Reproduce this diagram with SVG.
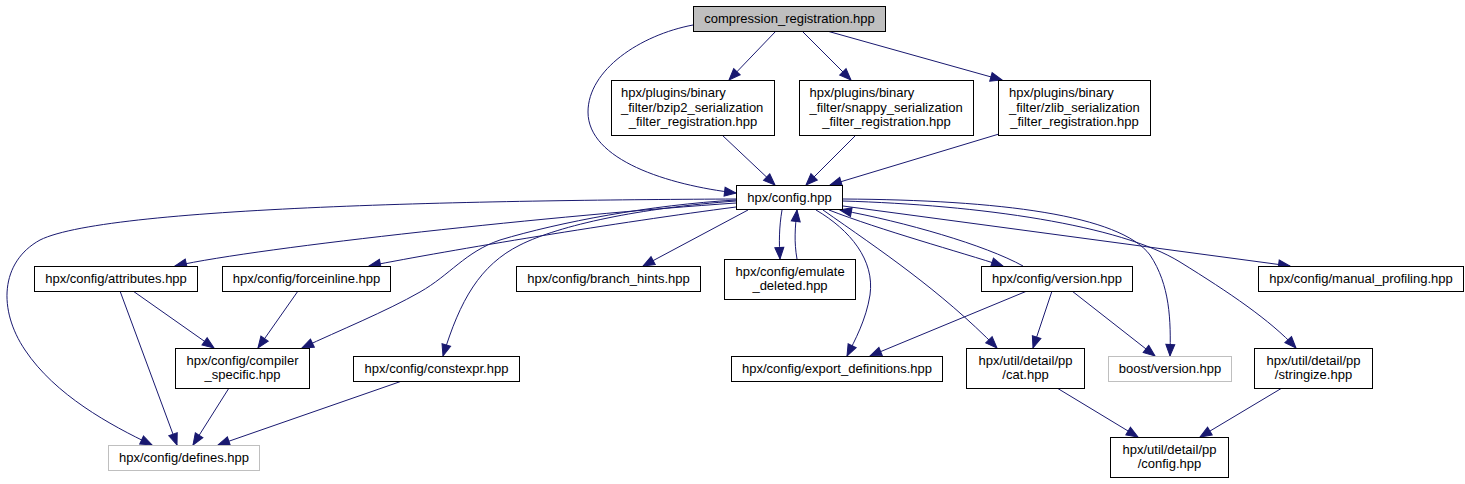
<svg xmlns="http://www.w3.org/2000/svg" width="1465" height="484" viewBox="0 0 1465 484">
<defs>
<marker id="ah" markerWidth="14" markerHeight="11" refX="11.5" refY="4.5" orient="auto" markerUnits="userSpaceOnUse" overflow="visible">
<path d="M0,0 L11.5,4.5 L0,9 Z" fill="#191970" stroke="#191970" stroke-width="1"/>
</marker>
</defs>
<style>
.n rect{fill:#ffffff;stroke:#000000;stroke-width:1}
.g rect{stroke:#bfbfbf}
.root rect{fill:#bfbfbf}
text{font-family:"Liberation Sans",Arial,Helvetica,sans-serif;font-size:13px;fill:#000000}
.c{text-anchor:middle}
.l{text-anchor:start}
#edges path{fill:none;stroke:#191970;stroke-width:1;marker-end:url(#ah)}
</style>
<rect x="0" y="0" width="1465" height="484" fill="#ffffff"/>
<g id="edges">
<path d="M776,31 L729,80"/>
<path d="M802,31 L851,80"/>
<path d="M827,31 L1002,80"/>
<path d="M693,25 C640,35 588,70 588,112 C588,160 668,185 736,193"/>
<path d="M722,135 L775,185"/>
<path d="M856,135 L806,185"/>
<path d="M999,134 L830,185"/>
<path d="M736,199 C520,200 110,205 40,240 C0,262 -2,310 25,350 C55,395 110,425 152,445"/>
<path d="M736,203 C560,215 260,247 175,266"/>
<path d="M736,207 C620,222 450,250 369,266"/>
<path d="M736,200 C650,205 560,222 500,240 C465,252 450,275 420,292 C385,312 340,330 302,348"/>
<path d="M736,201 C640,208 560,225 520,245 C480,265 460,300 443,356"/>
<path d="M748,210 L643,266"/>
<path d="M782,210 C779,228 779,242 780,259"/>
<path d="M797,259 C794,242 795,228 797,210"/>
<path d="M816,210 C850,230 875,260 870,295 C866,320 855,340 847,356"/>
<path d="M823,210 C880,250 940,290 997,348"/>
<path d="M829,210 C880,230 960,252 1003,266"/>
<path d="M1023,266 C985,245 905,222 840,210"/>
<path d="M843,199 C1000,200 1120,215 1150,255 C1170,285 1171,320 1170,356"/>
<path d="M843,201 C980,205 1120,225 1180,262 C1230,293 1270,320 1296,348"/>
<path d="M843,206 L1290,266"/>
<path d="M1027,291 L870,356"/>
<path d="M1052,291 L1033,348"/>
<path d="M1072,291 L1155,356"/>
<path d="M133,291 L214,348"/>
<path d="M120,291 L177,445"/>
<path d="M298,291 L258,348"/>
<path d="M229,388 L193,445"/>
<path d="M402,381 L218,445"/>
<path d="M1057,388 L1138,437"/>
<path d="M1282,388 L1200,437"/>
</g>
<g id="n_compression" class="n root"><rect x="693.5" y="6.5" width="192" height="25"/><text class="c" x="789.5" y="23">compression_registration.hpp</text></g>
<g id="n_bzip2" class="n"><rect x="611.5" y="80.5" width="163" height="55"/><text class="l" x="621" y="97">hpx/plugins/binary</text><text class="l" x="621" y="111.5">_filter/bzip2_serialization</text><text class="c" x="693" y="126">_filter_registration.hpp</text></g>
<g id="n_snappy" class="n"><rect x="799.5" y="80.5" width="174" height="55"/><text class="l" x="809.5" y="97">hpx/plugins/binary</text><text class="l" x="809.5" y="111.5">_filter/snappy_serialization</text><text class="c" x="886.5" y="126">_filter_registration.hpp</text></g>
<g id="n_zlib" class="n"><rect x="998.5" y="80.5" width="152" height="55"/><text class="l" x="1009" y="97">hpx/plugins/binary</text><text class="l" x="1009" y="111.5">_filter/zlib_serialization</text><text class="c" x="1074.5" y="126">_filter_registration.hpp</text></g>
<g id="n_config" class="n"><rect x="736.5" y="185.5" width="106" height="24"/><text class="c" x="789.5" y="202">hpx/config.hpp</text></g>
<g id="n_attributes" class="n"><rect x="34.5" y="266.5" width="163" height="25"/><text class="c" x="116" y="283">hpx/config/attributes.hpp</text></g>
<g id="n_forceinline" class="n"><rect x="222.5" y="266.5" width="168" height="25"/><text class="c" x="306.5" y="283">hpx/config/forceinline.hpp</text></g>
<g id="n_branch_hints" class="n"><rect x="516.5" y="266.5" width="184" height="25"/><text class="c" x="608.5" y="283">hpx/config/branch_hints.hpp</text></g>
<g id="n_emulate" class="n"><rect x="724.5" y="259.5" width="131" height="40"/><text class="l" x="735.5" y="275.5">hpx/config/emulate</text><text class="c" x="790" y="290">_deleted.hpp</text></g>
<g id="n_version" class="n"><rect x="981.5" y="266.5" width="151" height="25"/><text class="c" x="1057" y="283">hpx/config/version.hpp</text></g>
<g id="n_manual" class="n"><rect x="1258.5" y="266.5" width="205" height="25"/><text class="c" x="1361" y="283">hpx/config/manual_profiling.hpp</text></g>
<g id="n_compiler" class="n"><rect x="175.5" y="348.5" width="134" height="40"/><text class="l" x="186.5" y="364.5">hpx/config/compiler</text><text class="c" x="242.5" y="379">_specific.hpp</text></g>
<g id="n_constexpr" class="n"><rect x="353.5" y="356.5" width="166" height="25"/><text class="c" x="436.5" y="373">hpx/config/constexpr.hpp</text></g>
<g id="n_export" class="n"><rect x="731.5" y="356.5" width="211" height="25"/><text class="c" x="837" y="373">hpx/config/export_definitions.hpp</text></g>
<g id="n_cat" class="n"><rect x="966.5" y="348.5" width="118" height="40"/><text class="l" x="978.5" y="364.5">hpx/util/detail/pp</text><text class="c" x="1025.5" y="379">/cat.hpp</text></g>
<g id="n_boost" class="n g"><rect x="1108.5" y="356.5" width="123" height="25"/><text class="c" x="1170" y="373">boost/version.hpp</text></g>
<g id="n_stringize" class="n"><rect x="1254.5" y="348.5" width="118" height="40"/><text class="l" x="1266.5" y="364.5">hpx/util/detail/pp</text><text class="c" x="1313.5" y="379">/stringize.hpp</text></g>
<g id="n_defines" class="n g"><rect x="108.5" y="445.5" width="151" height="25"/><text class="c" x="184" y="462">hpx/config/defines.hpp</text></g>
<g id="n_ppconfig" class="n"><rect x="1110.5" y="437.5" width="118" height="40"/><text class="l" x="1122.5" y="453.5">hpx/util/detail/pp</text><text class="c" x="1169.5" y="468">/config.hpp</text></g>
</svg>
